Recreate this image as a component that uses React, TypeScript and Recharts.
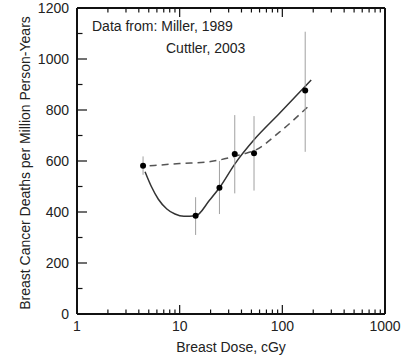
import React from 'react';
import { ComposedChart, XAxis, YAxis, Line, Scatter, ErrorBar } from 'recharts';

// Observed points (dose in cGy, deaths per million person-years)
const pointDose = [4.4, 14.3, 24.4, 34.4, 53, 167];
const pointRate = [581, 385, 495, 627, 630, 876];
const errLow = [35, 75, 103, 154, 146, 240];
const errHigh = [37, 73, 105, 153, 146, 231];

// Solid fitted curve
const solidDose = [4.6, 5.3, 6.2, 7.5, 9, 11, 14.3, 19.6, 24.4, 34.4, 53, 93, 191];
const solidRate = [558, 500, 450, 412, 392, 383, 385, 447, 495, 588, 683, 785, 918];

// Dashed fitted curve
const dashDose = [5.1, 10, 20, 30, 41, 53, 93, 183];
const dashRate = [581, 590, 598, 612, 627, 640, 712, 818];

const xTicks = [1, 2, 3, 4, 5, 6, 7, 8, 9, 10, 20, 30, 40, 50, 60, 70, 80, 90, 100, 200, 300, 400, 500, 600, 700, 800, 900, 1000];
const xMajor = [1, 10, 100, 1000];
const yTicks = [0, 100, 200, 300, 400, 500, 600, 700, 800, 900, 1000, 1100, 1200];

const annotation1 = 'Data from: Miller, 1989';
const annotation2 = 'Cuttler, 2003';
const xTitle = 'Breast Dose, cGy';
const yTitle = 'Breast Cancer Deaths per Million Person-Years';

const points = pointDose.map((x, i) => ({ x, y: pointRate[i], err: [errLow[i], errHigh[i]] }));
const solid = solidDose.map((x, i) => ({ x, y: solidRate[i] }));
const dashed = dashDose.map((x, i) => ({ x, y: dashRate[i] }));

const FONT = '"Liberation Sans", Arial, sans-serif';
const INK = '#111';

const BottomTick = (props: any) => {
  const { x, y, payload } = props;
  const v = payload.value;
  const major = xMajor.includes(v);
  return (
    <g>
      <line x1={x} x2={x} y1={y} y2={y - (major ? 9 : 4.5)} stroke={INK} strokeWidth={1.2} />
      {major && (
        <text x={x} y={y + 17} textAnchor="middle" fontSize={14} fontFamily={FONT} fill="#222">
          {v}
        </text>
      )}
    </g>
  );
};

const TopTick = (props: any) => {
  const { x, y, payload } = props;
  const major = xMajor.includes(payload.value);
  return <line x1={x} x2={x} y1={y} y2={y + (major ? 9 : 4.5)} stroke={INK} strokeWidth={1.2} />;
};

const LeftTick = (props: any) => {
  const { x, y, payload } = props;
  const v = payload.value;
  const major = v % 200 === 0;
  return (
    <g>
      <line x1={x} x2={x + (major ? 10 : 5.5)} y1={y} y2={y} stroke={INK} strokeWidth={1.2} />
      {major && (
        <text x={x - 8} y={y} textAnchor="end" dominantBaseline="central" fontSize={14} fontFamily={FONT} fill="#222">
          {v}
        </text>
      )}
    </g>
  );
};

const Dot = (props: any) => <circle cx={props.cx} cy={props.cy} r={3} fill="#000" />;

export default function App() {
  return (
    <div style={{ position: 'absolute', left: 0, top: 0, width: 402, height: 355, fontFamily: FONT }}>
      <ComposedChart width={402} height={355} margin={{ top: 0, right: 0, bottom: 0, left: 0 }}>
        <XAxis
          xAxisId={0}
          dataKey="x"
          type="number"
          scale="log"
          domain={[1, 1000]}
          allowDataOverflow
          ticks={xTicks}
          interval={0}
          tick={<BottomTick />}
          tickLine={false}
          tickSize={0}
          tickMargin={0}
          height={41}
          axisLine={{ stroke: INK, strokeWidth: 2 }}
          label={{
            content: (p: any) => (
              <text
                x={p.viewBox.x + p.viewBox.width / 2}
                y={p.viewBox.y + 38}
                textAnchor="middle"
                fontSize={14}
                fontFamily={FONT}
                fill="#222"
              >
                {xTitle}
              </text>
            ),
          }}
        />
        <XAxis
          xAxisId="top"
          orientation="top"
          dataKey="x"
          type="number"
          scale="log"
          domain={[1, 1000]}
          allowDataOverflow
          ticks={xTicks}
          interval={0}
          tick={<TopTick />}
          tickLine={false}
          tickSize={0}
          tickMargin={0}
          height={8}
          axisLine={{ stroke: INK, strokeWidth: 2 }}
        />
        <YAxis
          yAxisId={0}
          dataKey="y"
          type="number"
          domain={[0, 1200]}
          allowDataOverflow
          ticks={yTicks}
          interval={0}
          tick={<LeftTick />}
          tickLine={false}
          tickSize={0}
          tickMargin={0}
          width={77}
          axisLine={{ stroke: INK, strokeWidth: 2 }}
          label={{
            content: (p: any) => (
              <text
                x={p.viewBox.x + 25}
                y={p.viewBox.y + p.viewBox.height / 2 + 2}
                transform={`rotate(-90 ${p.viewBox.x + 25} ${p.viewBox.y + p.viewBox.height / 2 + 2})`}
                textAnchor="middle"
                dominantBaseline="central"
                fontSize={14}
                fontFamily={FONT}
                fill="#222"
              >
                {yTitle}
              </text>
            ),
          }}
        />
        <YAxis
          yAxisId="right"
          orientation="right"
          type="number"
          domain={[0, 1200]}
          tick={false}
          tickLine={false}
          width={17}
          axisLine={{ stroke: INK, strokeWidth: 2 }}
        />
        <Line
          data={dashed}
          dataKey="y"
          type="monotone"
          stroke="#555"
          strokeWidth={1.5}
          strokeDasharray="7 5"
          dot={false}
          activeDot={false}
          isAnimationActive={false}
        />
        <Line
          data={solid}
          dataKey="y"
          type="monotone"
          stroke="#333"
          strokeWidth={1.5}
          dot={false}
          activeDot={false}
          isAnimationActive={false}
        />
        <Scatter data={points} dataKey="y" shape={<Dot />} isAnimationActive={false}>
          <ErrorBar dataKey="err" direction="y" width={0} stroke="#a0a0a0" strokeWidth={1} />
        </Scatter>
      </ComposedChart>
      <svg width={402} height={355} style={{ position: 'absolute', left: 0, top: 0, pointerEvents: 'none' }}>
        <text x={92} y={31} fontSize={14} fontFamily={FONT} fill="#222">
          {annotation1}
        </text>
        <text x={166} y={53} fontSize={14} fontFamily={FONT} fill="#222">
          {annotation2}
        </text>
      </svg>
    </div>
  );
}
